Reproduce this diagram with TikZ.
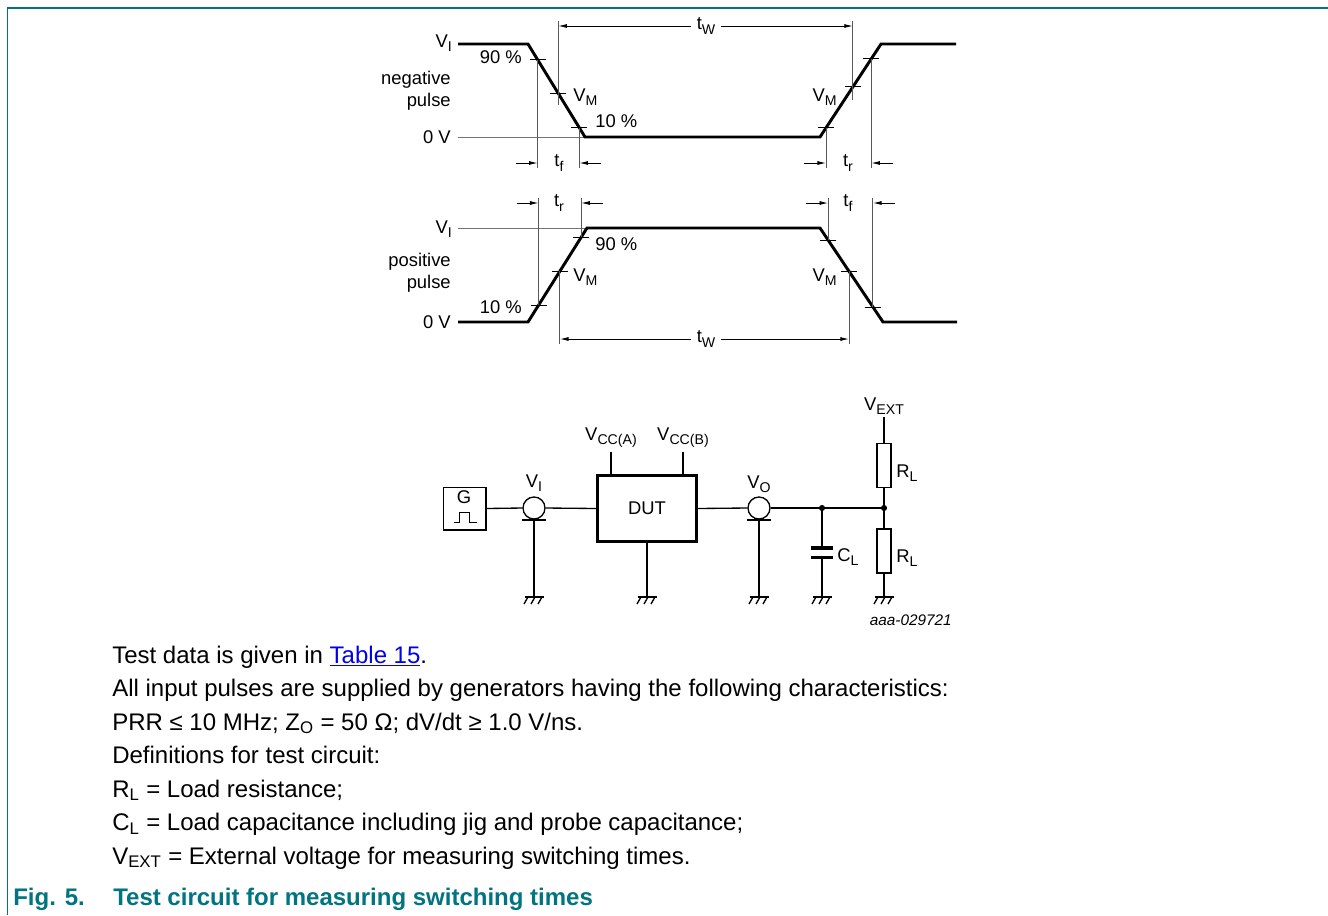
\documentclass[tikz,border=0pt]{standalone}
\usepackage{fontspec}
\setmainfont{Liberation Sans}
\usetikzlibrary{arrows.meta,calc}
\definecolor{nxpteal}{RGB}{0,116,128}
\definecolor{linkblue}{RGB}{0,0,238}
\newcommand{\dsub}[1]{\raisebox{-0.24em}{\fontsize{10.6}{12}\selectfont #1}}
\tikzset{
  wave/.style={line width=2.2pt},
  level/.style={line width=0.7pt, black!55},
  dimline/.style={line width=0.7pt, black!65},
  tickmark/.style={line width=0.7pt},
  dimarrow/.style={line width=0.7pt, -{Latex[length=6.5pt,width=3pt]}},
  wire/.style={line width=1pt},
  plate/.style={line width=2.6pt},
  lbl/.style={inner sep=0pt, font=\fontsize{13.8}{16}\selectfont},
  dut/.style={draw, line width=2.2pt, minimum width=74pt, minimum height=49pt, inner sep=0pt, font=\fontsize{13.8}{16}\selectfont},
  genbox/.style={draw, line width=1pt, minimum width=32pt, minimum height=32pt, inner sep=0pt},
  probe/.style={draw, circle, line width=1pt, minimum size=16.5pt, inner sep=0pt},
  res/.style={draw, line width=1pt, minimum width=10.5pt, minimum height=33pt, inner sep=0pt},
  bodytext/.style={anchor=base west, inner sep=0pt, font=\fontsize{18}{21}\selectfont},
  figcap/.style={anchor=base west, inner sep=0pt, text=nxpteal, font=\fontsize{18}{21}\selectfont\bfseries},
  gnd/.pic={
    \draw[wire] (-9.5,0) -- (9.5,0);
    \foreach \d in {-6,1,8} \draw[wire] (\d,0) -- ++(-4,7);
  }
}
\begin{document}
\begin{tikzpicture}[x=0.75pt, y=-0.75pt]
  \useasboundingbox (0,0) rectangle (1328,915);
  \draw[nxpteal, line width=1.1pt] (7.5,915) -- (7.5,8) -- (1328,8);

  % negative pulse
  \coordinate (na) at (458,44);
  \coordinate (nb) at (528,44);
  \coordinate (nc) at (585,137);
  \coordinate (nd) at (820,137);
  \coordinate (ne) at (881,44);
  \coordinate (nf) at (956,44);
  \coordinate (nz) at (458,137);
  \coordinate (nlow) at (0,168);
  \coordinate (nhigh) at (0,21);
  \draw[level] (nz) -- (nc);
  \draw[wave] (na) -- (nb) -- (nc) -- (nd) -- (ne) -- (nf);
  \path (nb) -- (nc) coordinate[pos=.17] (n90) coordinate[pos=.53] (nM) coordinate[pos=.9] (n10);
  \path (nd) -- (ne) coordinate[pos=.1] (m10) coordinate[pos=.54] (mM) coordinate[pos=.84] (m90);
  \foreach \p in {n90,nM,n10,m10,mM,m90}
    \draw[tickmark] ($(\p)+(-8,0)$) -- ($(\p)+(8,0)$);
  \foreach \p in {n90,n10,m10,m90}
    \draw[dimline] (\p) -- (\p |- nlow);
  \draw[dimline] (nM |- nhigh) -- ($(nM)+(0,12)$);
  \draw[dimline] (mM |- nhigh) -- ($(mM)+(0,13)$);
  \node[lbl, fill=white, inner xsep=4pt] (ntw) at (706,26) {t\dsub{W}};
  \draw[dimarrow] (ntw.west) -- (nM |- ntw);
  \draw[dimarrow] (ntw.east) -- (mM |- ntw);
  \node[lbl] (ntf) at (559,163) {t\dsub{f}};
  \node[lbl] (ntr) at (848,163) {t\dsub{r}};
  \draw[dimarrow] ($(n90 |- ntf)+(-22,0)$) -- (n90 |- ntf);
  \draw[dimarrow] ($(n10 |- ntf)+(22,0)$) -- (n10 |- ntf);
  \draw[dimarrow] ($(m10 |- ntr)+(-22,0)$) -- (m10 |- ntr);
  \draw[dimarrow] ($(m90 |- ntr)+(22,0)$) -- (m90 |- ntr);
  \node[lbl, anchor=base east] (nvi) at (452,47) {V\dsub{I}};
  \node[lbl, anchor=base east] (n90l) at (522,63) {90 \%};
  \node[lbl, anchor=base east] (nneg) at (451,84) {negative};
  \node[lbl, anchor=base east] (npul) at (451,106) {pulse};
  \node[lbl, anchor=base east] (n0v) at (451,143) {0 V};
  \node[lbl, anchor=base west] (nvm) at (573,101) {V\dsub{M}};
  \node[lbl, anchor=base west] (n10l) at (595,127) {10 \%};
  \node[lbl, anchor=base east] (mvm) at (837,101) {V\dsub{M}};

  % positive pulse
  \coordinate (pa) at (458,322);
  \coordinate (pb) at (528,322);
  \coordinate (pc) at (587,228);
  \coordinate (pd) at (820,228);
  \coordinate (pe) at (883,322);
  \coordinate (pf) at (957,322);
  \coordinate (pz) at (458,228);
  \coordinate (phigh) at (0,198);
  \coordinate (plow) at (0,344);
  \draw[level] (pz) -- (pc);
  \draw[wave] (pa) -- (pb) -- (pc) -- (pd) -- (pe) -- (pf);
  \path (pb) -- (pc) coordinate[pos=.18] (p10) coordinate[pos=.54] (pM) coordinate[pos=.9] (p90);
  \path (pd) -- (pe) coordinate[pos=.13] (q90) coordinate[pos=.46] (qM) coordinate[pos=.84] (q10);
  \foreach \p in {p10,pM,p90,q90,qM,q10}
    \draw[tickmark] ($(\p)+(-8,0)$) -- ($(\p)+(8,0)$);
  \foreach \p in {p10,p90,q90,q10}
    \draw[dimline] (\p) -- (\p |- phigh);
  \draw[dimline] (pM) -- (pM |- plow);
  \draw[dimline] (qM) -- (qM |- plow);
  \node[lbl, fill=white, inner xsep=4pt] (ptw) at (706,339) {t\dsub{W}};
  \draw[dimarrow] (ptw.west) -- (pM |- ptw);
  \draw[dimarrow] (ptw.east) -- (qM |- ptw);
  \node[lbl] (ptr) at (559,203) {t\dsub{r}};
  \node[lbl] (ptf) at (848,203) {t\dsub{f}};
  \draw[dimarrow] ($(p10 |- ptr)+(-22,0)$) -- (p10 |- ptr);
  \draw[dimarrow] ($(p90 |- ptr)+(22,0)$) -- (p90 |- ptr);
  \draw[dimarrow] ($(q90 |- ptf)+(-22,0)$) -- (q90 |- ptf);
  \draw[dimarrow] ($(q10 |- ptf)+(22,0)$) -- (q10 |- ptf);
  \node[lbl, anchor=base east] (pvi) at (452,233) {V\dsub{I}};
  \node[lbl, anchor=base east] (ppos) at (451,266) {positive};
  \node[lbl, anchor=base east] (ppul) at (451,288) {pulse};
  \node[lbl, anchor=base east] (p0v) at (451,328) {0 V};
  \node[lbl, anchor=base east] (p10l) at (522,313) {10 \%};
  \node[lbl, anchor=base west] (pvm) at (573,281) {V\dsub{M}};
  \node[lbl, anchor=base west] (p90l) at (595,250) {90 \%};
  \node[lbl, anchor=base east] (qvm) at (837,281) {V\dsub{M}};

  % test circuit
  \node[genbox] (gen) at (464.5,508.5) {};
  \node[lbl, anchor=base] (glbl) at (464,503) {G};
  \draw[wire] ($(gen.center)+(-11,14)$) -- ++(6,0) -- ++(0,-10) -- ++(10,0) -- ++(0,10) -- ++(7,0);
  \node[probe] (pI) at (534,508) {};
  \node[probe] (pO) at (759,508) {};
  \node[dut] (dut) at (647,508.5) {DUT};
  \node[res] (rT) at (884,465.5) {};
  \node[res] (rB) at (884,551) {};
  \coordinate (jC) at (822,508);
  \coordinate (jR) at (884,508);
  \coordinate (vext) at (884,417);
  \coordinate (vcca) at (611,452);
  \coordinate (vccb) at (683,452);
  \coordinate (cT) at (822,548);
  \coordinate (cB) at (822,557.5);
  \coordinate (gI) at (534,597);
  \coordinate (gD) at (647,597);
  \coordinate (gO) at (759,597);
  \coordinate (gC) at (822,597);
  \coordinate (gR) at (884,597);
  \draw[wire] (gen.east) -- (pI.west);
  \draw[wire] (pI.east) -- (dut.west);
  \draw[wire] (dut.east) -- (pO.west);
  \draw[wire] (pO.east) -- (jC) -- (jR);
  \draw[wire] (vext) -- (rT.north);
  \draw[wire] (rT.south) -- (jR) -- (rB.north);
  \draw[wire] (rB.south) -- (gR);
  \draw[wire] (vcca) -- (vcca |- dut.north);
  \draw[wire] (vccb) -- (vccb |- dut.north);
  \draw[wire] (dut.south) -- (gD);
  \draw[wire] (jC) -- (cT);
  \draw[wire] (cB) -- (gC);
  \draw[plate] ($(cT)+(-11,0)$) -- ($(cT)+(11,0)$);
  \draw[plate] ($(cB)+(-11,0)$) -- ($(cB)+(11,0)$);
  \foreach \p/\g in {pI/gI,pO/gO} {
    \draw[wire] (\p.south) -- (\g);
    \draw[line width=1.3pt] ($(\p.south)+(-12,0)$) -- ($(\p.south)+(12,0)$);
  }
  \fill (jC) circle[radius=2.3pt];
  \fill (jR) circle[radius=2.3pt];
  \foreach \g in {gI,gD,gO,gC,gR}
    \pic at (\g) {gnd};
  \node[lbl, anchor=base] (lvi) at (534,487) {V\dsub{I}};
  \node[lbl, anchor=base] (lvo) at (759,488) {V\dsub{O}};
  \node[lbl, anchor=base] (lvcca) at (611,440) {V\dsub{CC(A)}};
  \node[lbl, anchor=base] (lvccb) at (683,440) {V\dsub{CC(B)}};
  \node[lbl, anchor=base] (lvext) at (884,410) {V\dsub{EXT}};
  \node[lbl, anchor=base west] (lrt) at (896,477) {R\dsub{L}};
  \node[lbl, anchor=base west] (lrb) at (896,562) {R\dsub{L}};
  \node[lbl, anchor=base west] (lcl) at (837,561) {C\dsub{L}};
  \node[inner sep=0pt, anchor=base east, font=\fontsize{11.5}{14}\selectfont\itshape] (code) at (952,625) {aaa-029721};

  % notes and caption
  \node[bodytext] (t1) at (112,663) {Test data is given in \textcolor{linkblue}{\underline{Table 15}}.};
  \node[bodytext] (t2) at (112,696.5) {All input pulses are supplied by generators having the following characteristics:};
  \node[bodytext] (t3) at (112,730) {PRR ≤ 10 MHz; Z\textsubscript{O} = 50 Ω; dV/dt ≥ 1.0 V/ns.};
  \node[bodytext] (t4) at (112,763.5) {Definitions for test circuit:};
  \node[bodytext] (t5) at (112,797) {R\textsubscript{L} = Load resistance;};
  \node[bodytext] (t6) at (112,830.5) {C\textsubscript{L} = Load capacitance including jig and probe capacitance;};
  \node[bodytext] (t7) at (112,864) {V\textsubscript{EXT} = External voltage for measuring switching times.};
  \node[figcap] (fnum) at (13,905) {Fig. 5.};
  \node[figcap] (ftitle) at (113,905) {Test circuit for measuring switching times};
\end{tikzpicture}
\end{document}
